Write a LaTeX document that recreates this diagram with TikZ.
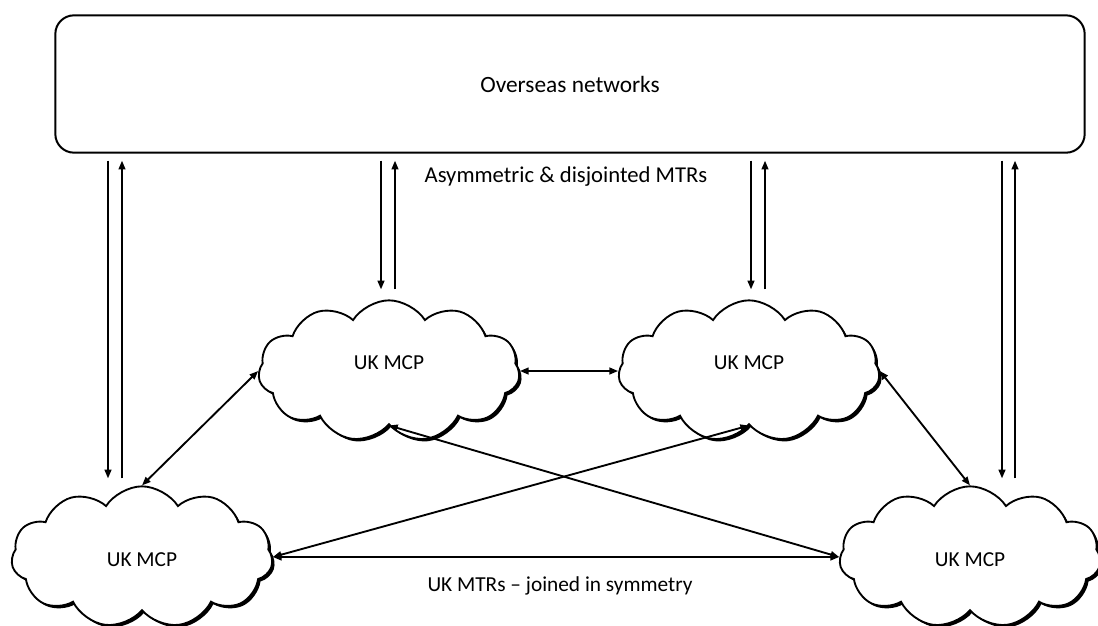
\documentclass[tikz,border=0pt]{standalone}
\usepackage{fontspec}
\setmainfont{Carlito}
\usetikzlibrary{shapes.symbols,arrows.meta,calc,shadows}

\begin{document}
\begin{tikzpicture}[x=0.75pt,y=-0.75pt,
  every node/.style={font=\fontsize{16}{19}\selectfont},
  mcp/.style={cloud, cloud puffs=11, cloud puff arc=115, aspect=1.9,
    cloud ignores aspect, draw, line width=1.4pt, fill=white,
    minimum width=196pt, minimum height=106pt, inner sep=0pt,
    drop shadow={shadow xshift=1.8pt, shadow yshift=-1.8pt, fill=black, opacity=1}},
  raised/.style={text height=10.3pt, text depth=12pt},
  lowered/.style={text height=14.8pt, text depth=0pt},
  panel/.style={draw, line width=1.5pt, rounded corners=14pt,
    minimum width=772pt, minimum height=103pt},
  link/.style={line width=1.4pt, -{Triangle[length=6.5pt,width=5pt]}},
  both/.style={line width=1.4pt, {Triangle[length=6.5pt,width=5pt]}-{Triangle[length=6.5pt,width=5pt]}},
]
\useasboundingbox (0,0) rectangle (1098,625);

% overseas networks panel
\node[panel, font=\fontsize{17.5}{21}\selectfont] (box) at (570,84) {Overseas networks};

% UK market coupling parties
\node[mcp, raised] (ml) at (389,371) {UK MCP};
\node[mcp, raised] (mr) at (749,371) {UK MCP};
\node[mcp, lowered] (bl) at (142,557) {UK MCP};
\node[mcp, lowered] (br) at (970,557) {UK MCP};

% one-way links to and from the overseas networks
\draw[link] ($(box.south -| bl.north)+(-34,7)$) -- ($(bl.north)+(-34,-7)$);
\draw[link] ($(bl.north)+(-20,-7)$) -- ($(box.south -| bl.north)+(-20,7)$);
\draw[link] ($(box.south -| ml.north)+(-8,7)$) -- ($(ml.north)+(-8,-10)$);
\draw[link] ($(ml.north)+(6,-10)$) -- ($(box.south -| ml.north)+(6,7)$);
\draw[link] ($(box.south -| mr.north)+(2,7)$) -- ($(mr.north)+(2,-10)$);
\draw[link] ($(mr.north)+(16,-10)$) -- ($(box.south -| mr.north)+(16,7)$);
\draw[link] ($(box.south -| br.north)+(32,7)$) -- ($(br.north)+(32,-7)$);
\draw[link] ($(br.north)+(45,-7)$) -- ($(box.south -| br.north)+(45,7)$);

% two-way links between UK parties
\draw[both] (bl.north) -- (ml.west);
\draw[both] (ml.east) -- (mr.west);
\draw[both] (mr.east) -- (br.north);
\draw[both] (bl.east) -- (br.west);
\draw[both] (bl.east) -- (mr.south);
\draw[both] (ml.south) -- (br.west);

% labels
\node[font=\fontsize{17}{20}\selectfont] (asym) at (566,177) {Asymmetric \& disjointed MTRs};
\node (sym) at (560,586) {UK MTRs -- joined in symmetry};
\end{tikzpicture}
\end{document}
